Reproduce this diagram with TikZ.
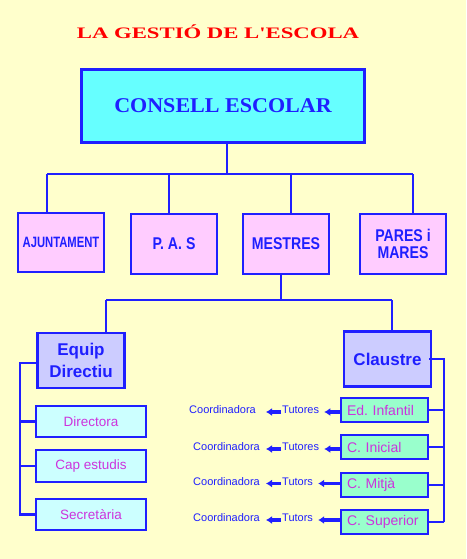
\documentclass[tikz,border=0pt]{standalone}
\usepackage{fontspec}
\setmainfont{Liberation Sans}
\newfontfamily\titlefont{Liberation Serif}
\usepackage{graphicx}
\usetikzlibrary{arrows.meta}
\definecolor{fonsgroc}{HTML}{FFFFCC}
\definecolor{blau}{HTML}{1F1FFF}
\definecolor{vermell}{HTML}{FF0000}
\definecolor{cian}{HTML}{66FFFF}
\definecolor{rosa}{HTML}{FFCCFF}
\definecolor{lila}{HTML}{CCCCFF}
\definecolor{cianclar}{HTML}{CCFFFF}
\definecolor{menta}{HTML}{99FFCC}
\definecolor{lilafort}{HTML}{CC33DD}
\newcommand{\estret}[1]{\scalebox{0.83}[1]{#1}}
\frenchspacing
\tikzset{
  caixa/.style={draw=blau,line width=2.5pt,text=blau,align=center,inner sep=0pt},
  caixarosa/.style={caixa,fill=rosa,minimum width=86pt,minimum height=60pt,
    font=\bfseries\fontsize{17}{17}\selectfont},
  caixalila/.style={caixa,fill=lila,minimum width=87pt,minimum height=55pt,
    font=\bfseries\fontsize{17}{22}\selectfont},
  caixaclara/.style={caixa,fill=cianclar,minimum width=110pt,minimum height=31pt,
    text=lilafort,font=\fontsize{13.5}{13.5}\selectfont},
  caixamenta/.style={caixa,fill=menta,text width=75pt,inner xsep=6pt,minimum height=24pt,
    align=left,text=lilafort,font=\fontsize{14}{14}\selectfont},
  textpetit/.style={text=blau,inner sep=0pt,font=\fontsize{11}{11}\selectfont},
  linia/.style={draw=blau,line width=2.5pt},
  fletxa/.style={draw=blau,line width=3.2pt,-{Latex[length=6pt,width=8pt]}}
}
\begin{document}
\begin{tikzpicture}[x=1pt,y=-1pt]
  \fill[fonsgroc] (0,0) rectangle (466,559);
  \node[text=vermell,font=\titlefont\bfseries\fontsize{16}{16}\selectfont,anchor=base] (titol) at (218,39)
    {\scalebox{1.42}[1]{LA GESTIÓ DE L'ESCOLA}};
  \node[caixa,line width=3.5pt,fill=cian,minimum width=283pt,minimum height=73pt,
    font=\titlefont\bfseries\fontsize{21}{21}\selectfont] (consell) at (223,106)
    {\raisebox{-2pt}{\scalebox{1.05}[1]{CONSELL ESCOLAR}}};

  \node[caixarosa,minimum height=59pt] (ajuntament) at (61,242.5)
    {\scalebox{0.75}[1]{\fontsize{15}{15}\selectfont AJUNTAMENT}};
  \node[caixarosa] (pas) at (174,244) {\estret{P. A. S}};
  \node[caixarosa] (mestres) at (286,244) {\estret{MESTRES}};
  \node[caixarosa] (pares) at (403,244) {\estret{PARES i}\\\estret{MARES}};

  \coordinate (bus) at (227,174);
  \draw[linia] (consell.south -| bus) -- (bus);
  \draw[linia] (47,174) -- (413,174);
  \foreach \x/\caixanom in {47/ajuntament,169/pas,291/mestres,413/pares}
    \draw[linia] (\x,174) -- (\x,174 |- \caixanom.north);

  \node[caixalila] (equip) at (81,360.5) {Equip\\Directiu};
  \node[caixalila] (claustre) at (387.5,359) {Claustre};
  \coordinate (bus2) at (281,300);
  \draw[linia] (mestres.south -| bus2) -- (bus2);
  \draw[linia] (106,300) -- (392,300);
  \draw[linia] (106,300) -- (106,300 |- equip.north);
  \draw[linia] (392,300) -- (392,300 |- claustre.north);

  \node[caixaclara] (directora) at (91,421.5) {Directora};
  \node[caixaclara,minimum height=32pt] (capestudis) at (91,466) {Cap estudis};
  \node[caixaclara] (secretaria) at (91,514.5) {Secretària};
  \coordinate (esq) at (20,363);
  \draw[linia] (equip.west |- esq) -- (esq) -- (esq |- secretaria.west) -- (secretaria.west);
  \draw[linia] (esq |- directora.west) -- (directora.west);
  \draw[linia] (esq |- capestudis.west) -- (capestudis.west);

  \coordinate (dre) at (444,359);
  \foreach \nom/\txt/\y/\yt/\tut/\xc in {infantil/Ed. Infantil/410/410/Tutores/189,
      inicial/C. Inicial/447/447/Tutores/193,
      mitja/C. Mitjà/485/481.5/Tutors/193,
      superior/C. Superior/522/518/Tutors/193}{
    \node[caixamenta] (\nom) at (384.5,\y) {\txt};
    \node[textpetit,anchor=west] (tut\nom) at (282,\yt) {\tut};
    \node[textpetit,anchor=west] (coord\nom) at (\xc,\yt) {Coordinadora};
    \coordinate (f\nom) at ([yshift=-2pt]tut\nom.east);
    \coordinate (g\nom) at ([xshift=-1pt,yshift=-2pt]tut\nom.west);
    \draw[fletxa] (f\nom -| \nom.west) -- ([xshift=5pt]f\nom);
    \draw[fletxa] (g\nom) -- ([xshift=-15pt]g\nom);
    \draw[linia] (dre |- \nom.east) -- (\nom.east);
  }
  \draw[linia] ([xshift=-3pt]claustre.east) -- (dre) -- (dre |- superior.east);
\end{tikzpicture}
\end{document}
